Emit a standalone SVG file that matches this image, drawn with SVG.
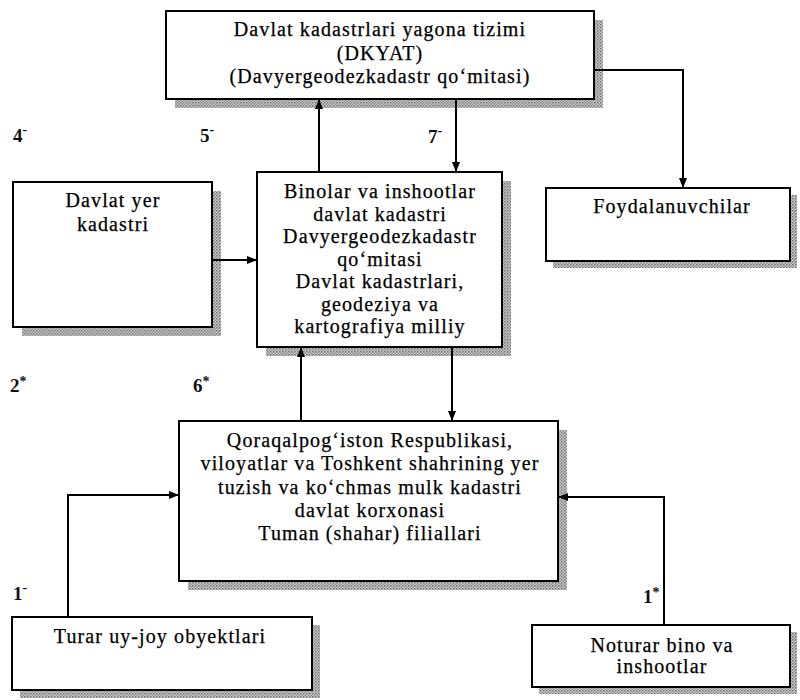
<svg xmlns="http://www.w3.org/2000/svg" width="800" height="700" viewBox="0 0 800 700">
<defs>
<pattern id="hatch" width="3" height="3" patternUnits="userSpaceOnUse">
<rect width="3" height="3" fill="#cfcfcf"/>
<rect width="1.5" height="1.5" fill="#6e6e6e"/>
<rect x="1.5" y="1.5" width="1.5" height="1.5" fill="#8e8e8e"/>
</pattern>
<marker id="arr" markerWidth="10" markerHeight="8" refX="10" refY="4" orient="auto" markerUnits="userSpaceOnUse">
<path d="M0,0 L10,4 L0,8 z" fill="#000"/>
</marker>
<style>
.shadow{fill:url(#hatch);stroke:none}
.box{fill:#fff;stroke:#000;stroke-width:2}
.t{font-family:"Liberation Serif","Times New Roman",serif;font-size:20px;letter-spacing:1.1px;fill:#000;stroke:#000;stroke-width:0.25;text-anchor:middle}
.n{font-family:"Liberation Serif","Times New Roman",serif;font-size:19px;font-weight:bold;fill:#111}
.m{font-size:14px}
.c{fill:none;stroke:#000;stroke-width:2;marker-end:url(#arr)}
</style>
</defs>
<rect width="800" height="700" fill="#fff"/>

<g id="dkyat">
<rect class="shadow" x="175" y="20" width="428" height="88"/>
<rect class="box" x="166" y="11" width="428" height="88"/>
<text class="t" x="380" y="36">Davlat kadastrlari yagona tizimi</text>
<text class="t" x="380" y="60">(DKYAT)</text>
<text class="t" x="380" y="83">(Davyergeodezkadastr qo‘mitasi)</text>
</g>

<g id="davlat-yer">
<rect class="shadow" x="22" y="191" width="199" height="145"/>
<rect class="box" x="13" y="182" width="199" height="145"/>
<text class="t" x="113" y="207">Davlat yer</text>
<text class="t" x="113" y="231">kadastri</text>
</g>

<g id="binolar">
<rect class="shadow" x="266" y="181" width="245" height="175"/>
<rect class="box" x="257" y="172" width="245" height="175"/>
<text class="t" x="380" y="198">Binolar va inshootlar</text>
<text class="t" x="380" y="221">davlat kadastri</text>
<text class="t" x="380" y="243">Davyergeodezkadastr</text>
<text class="t" x="380" y="266">qo‘mitasi</text>
<text class="t" x="380" y="288">Davlat kadastrlari,</text>
<text class="t" x="380" y="311">geodeziya va</text>
<text class="t" x="380" y="333">kartografiya milliy</text>
</g>

<g id="foydalanuvchilar">
<rect class="shadow" x="553" y="195" width="244" height="73"/>
<rect class="box" x="546" y="188" width="244" height="73"/>
<text class="t" x="672" y="213">Foydalanuvchilar</text>
</g>

<g id="korxona">
<rect class="shadow" x="188" y="430" width="379" height="160"/>
<rect class="box" x="179" y="421" width="379" height="160"/>
<text class="t" x="370" y="447">Qoraqalpog‘iston Respublikasi,</text>
<text class="t" x="370" y="470">viloyatlar va Toshkent shahrining yer</text>
<text class="t" x="370" y="494">tuzish va ko‘chmas mulk kadastri</text>
<text class="t" x="370" y="517">davlat korxonasi</text>
<text class="t" x="370" y="540">Tuman (shahar) filiallari</text>
</g>

<g id="turar">
<rect class="shadow" x="20" y="625" width="300" height="73"/>
<rect class="box" x="12" y="617" width="300" height="73"/>
<text class="t" x="160" y="643">Turar uy-joy obyektlari</text>
</g>

<g id="noturar">
<rect class="shadow" x="539" y="632" width="258" height="62"/>
<rect class="box" x="532" y="625" width="258" height="62"/>
<text class="t" x="662" y="652">Noturar bino va</text>
<text class="t" x="662" y="673">inshootlar</text>
</g>

<g id="connectors">
<path class="c" d="M212 260 H257"/>
<path class="c" d="M319 172 V99"/>
<path class="c" d="M456 99 V172"/>
<path class="c" d="M594 70 H683 V188"/>
<path class="c" d="M301 421 V347"/>
<path class="c" d="M452 347 V421"/>
<path class="c" d="M68 617 V495 H179"/>
<path class="c" d="M664 625 V497 H558"/>
</g>

<g id="labels">
<text class="n" x="13" y="142">4<tspan class="m" dy="-8">-</tspan></text>
<text class="n" x="200" y="142">5<tspan class="m" dy="-8">-</tspan></text>
<text class="n" x="428" y="143">7<tspan class="m" dy="-8">-</tspan></text>
<text class="n" x="10" y="392">2<tspan class="m" dy="-6">*</tspan></text>
<text class="n" x="193" y="392">6<tspan class="m" dy="-6">*</tspan></text>
<text class="n" x="13" y="600">1<tspan class="m" dy="-8">-</tspan></text>
<text class="n" x="643" y="603">1<tspan class="m" dy="-6">*</tspan></text>
</g>
</svg>
